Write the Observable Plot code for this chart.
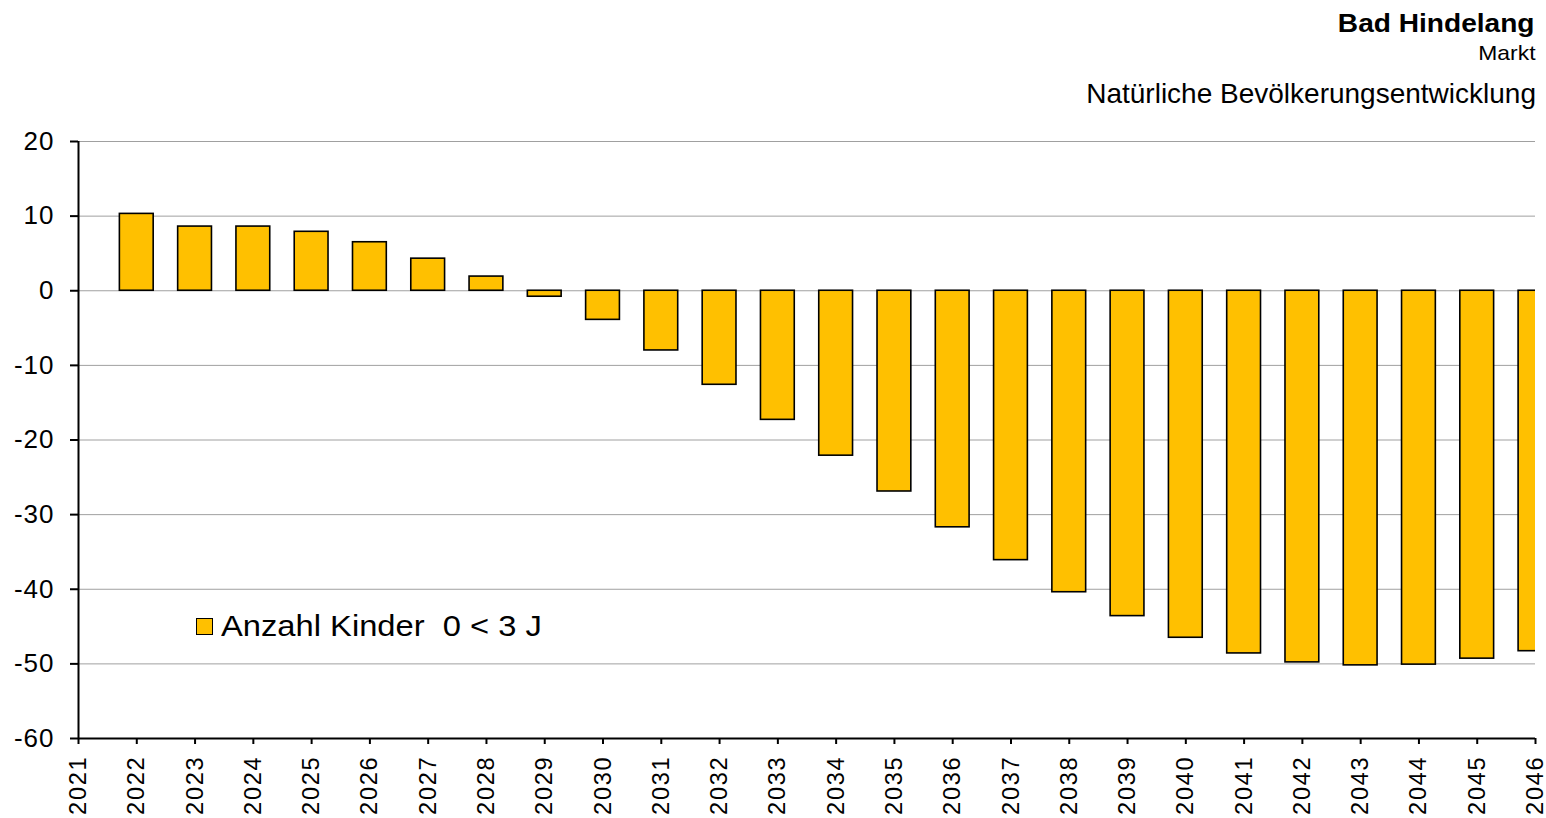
<!DOCTYPE html>
<html>
<head>
<meta charset="utf-8">
<script src="https://cdn.jsdelivr.net/npm/d3@7"></script>
<script src="https://cdn.jsdelivr.net/npm/@observablehq/plot@0.6"></script>
<style>
  html, body { margin: 0; padding: 0; background: #fff; }
  #wrap { position: relative; width: 1546px; height: 818px; overflow: hidden; font-family: "Liberation Sans", Arial, sans-serif; color: #000; }
  .t { position: absolute; white-space: pre; line-height: 1; transform-origin: right center; }
  #t1 { right: 11px; top: 10px; font-size: 26.5px; font-weight: bold; transform: scaleX(1.06); }
  #t2 { right: 11px; top: 42px; font-size: 21px; transform: scaleX(1.09); }
  #t3 { right: 10px; top: 80px; font-size: 28px; }
  #legend { position: absolute; left: 196px; top: 609px; font-size: 30px; display: flex; align-items: center; white-space: pre; }
  #legend .sw { width: 15px; height: 15px; background: #FFC000; border: 1.5px solid #000; margin-right: 8px; }
  #legend .lt { display: inline-block; transform: scaleX(1.09); transform-origin: left center; }
  #chart { position: absolute; left: 0; top: 0; }
</style>
</head>
<body>
<div id="wrap">
  <div id="chart"></div>
  <div class="t" id="t1">Bad Hindelang</div>
  <div class="t" id="t2">Markt</div>
  <div class="t" id="t3">Natürliche Bevölkerungsentwicklung</div>
  <div id="legend"><span class="sw"></span><span class="lt" id="legendText"></span></div>
</div>
<script>
const years = [2022,2023,2024,2025,2026,2027,2028,2029,2030,2031,2032,2033,2034,2035,2036,2037,2038,2039,2040,2041,2042,2043,2044,2045,2046];
const values = [10.3,8.6,8.6,7.9,6.5,4.3,1.9,-0.8,-3.9,-8.0,-12.6,-17.3,-22.1,-26.9,-31.7,-36.1,-40.4,-43.6,-46.5,-48.6,-49.8,-50.2,-50.1,-49.3,-48.3];
const xTicks = [2021,2022,2023,2024,2025,2026,2027,2028,2029,2030,2031,2032,2033,2034,2035,2036,2037,2038,2039,2040,2041,2042,2043,2044,2045,2046];
const yTicks = [20,10,0,-10,-20,-30,-40,-50,-60];
const seriesName = "Anzahl Kinder  0 < 3 J";

document.getElementById("legendText").textContent = seriesName;

const data = years.map((year, i) => ({year, value: values[i]}));
const halfW = 0.29;

const chart = Plot.plot({
  width: 1546,
  height: 818,
  marginLeft: 78,
  marginRight: 11,
  marginTop: 141,
  marginBottom: 80,
  style: {fontFamily: "'Liberation Sans', Arial, sans-serif", background: "#fff", color: "#000", overflow: "visible"},
  x: {domain: [2021, 2046]},
  y: {domain: [-60, 20]},
  marks: [
    Plot.gridY({ticks: yTicks, stroke: "#a0a0a0", strokeOpacity: 1, strokeWidth: 1}),
    Plot.rectY(data, {
      x1: d => d.year - halfW,
      x2: d => d.year + halfW,
      y1: 0,
      y2: "value",
      fill: "#FFC000",
      stroke: "#000",
      strokeWidth: 1.6,
      clip: true
    }),
    Plot.ruleX([2021], {stroke: "#000", strokeWidth: 2}),
    Plot.ruleY([-60], {stroke: "#000", strokeWidth: 2}),
    Plot.axisY({ticks: yTicks, tickSize: 8, tickPadding: 16, fontSize: 26, strokeWidth: 2, tickFormat: d => String(d), label: null}),
    Plot.axisX({ticks: xTicks, tickSize: 6, tickPadding: 11, fontSize: 23.5, strokeWidth: 2, tickRotate: -90, tickFormat: d => String(d), label: null})
  ]
});
d3.select(chart).selectAll("g[aria-label='y-axis tick label'] text").attr("letter-spacing", "1px");
d3.select(chart).selectAll("g[aria-label='x-axis tick label'] text").attr("letter-spacing", "1.8px");
document.getElementById("chart").appendChild(chart);
</script>
</body>
</html>
